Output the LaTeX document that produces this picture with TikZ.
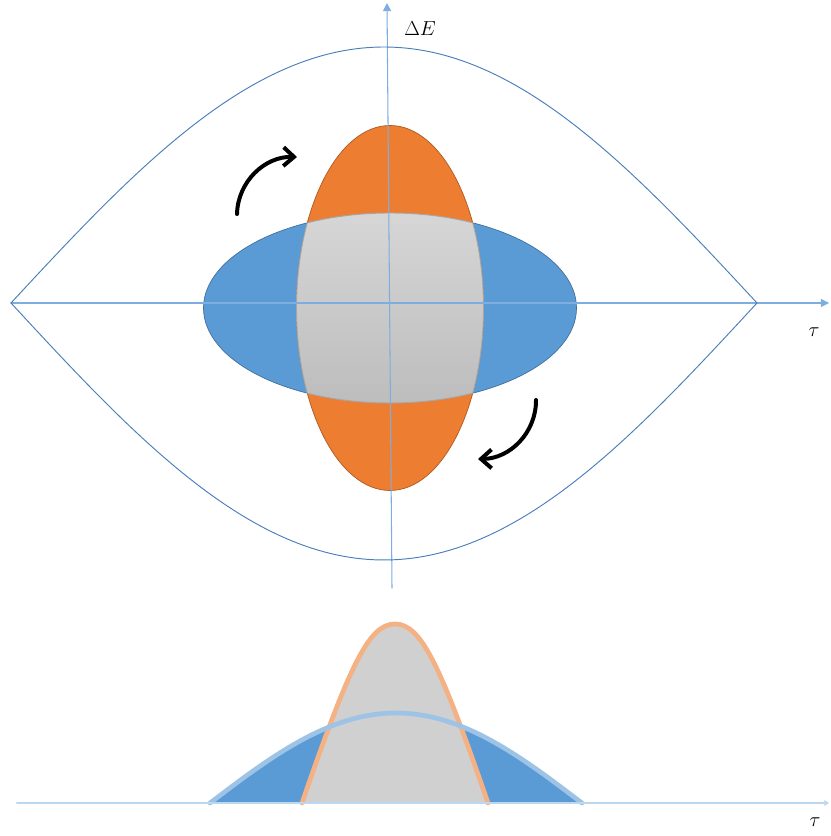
\documentclass[tikz,border=0pt]{standalone}
\usepackage{tikz}
\usetikzlibrary{arrows.meta}
\definecolor{PhaseBlue}{HTML}{5B9BD5}
\definecolor{PhaseBlueEdge}{HTML}{41719C}
\definecolor{PhaseOrange}{HTML}{ED7D31}
\definecolor{PhaseOrangeEdge}{HTML}{AE5A21}
\definecolor{PhaseGrayEdge}{HTML}{A6A6A6}
\definecolor{GrayTop}{HTML}{D6D6D6}
\definecolor{GrayBot}{HTML}{BDBDBD}
\definecolor{AxisBlue}{HTML}{7EAEDF}
\definecolor{SepBlue}{HTML}{4A7EBB}
\definecolor{ProfBlue}{HTML}{9DC3E6}
\definecolor{ProfOrange}{HTML}{F4B183}
\definecolor{ProfAxis}{HTML}{BDD7EE}
\definecolor{ProfGray}{HTML}{D0D0D0}

\begin{document}
\begin{tikzpicture}[x=0.03cm,y=0.03cm,line cap=round,font=\fontsize{17}{20}\selectfont,
  axis/.style={AxisBlue,line width=0.9pt,-{Triangle[length=7pt,width=7pt]}},
  turn/.style={line width=3.4pt,-{Straight Barb[length=9pt,width=16pt]}}]
  \useasboundingbox (0,0) rectangle (830,836);
  \coordinate (tL) at (11,533); \coordinate (tR) at (829,533);
  \coordinate (eB) at (392,248); \coordinate (eT) at (387,833);
  \coordinate (bL) at (17,33); \coordinate (bR) at (829,33);
  \coordinate (u0) at (237,622); \coordinate (u1) at (297,679);
  \coordinate (d0) at (536,436); \coordinate (d1) at (478,377);
  \filldraw[fill=PhaseBlue,draw=PhaseBlueEdge,line width=0.6pt] (390,528) ellipse [x radius=186.5,y radius=95];
  \filldraw[fill=PhaseOrange,draw=PhaseOrangeEdge,line width=0.6pt] (390,528) ellipse [x radius=93.5,y radius=182.5];
  \begin{scope}
    \clip (390,528) ellipse [x radius=93.5,y radius=182.5];
    \shade[top color=GrayTop,bottom color=GrayBot] (390,528) ellipse [x radius=186.5,y radius=95];
    \draw[PhaseGrayEdge,line width=0.8pt] (390,528) ellipse [x radius=186.5,y radius=95];
  \end{scope}
  \begin{scope}
    \clip (390,528) ellipse [x radius=186.5,y radius=95];
    \draw[PhaseGrayEdge,line width=0.8pt] (390,528) ellipse [x radius=93.5,y radius=182.5];
  \end{scope}
  \draw[axis] (tL) -- (tR); \draw[axis] (eB) -- (eT);
  \draw[SepBlue,line width=0.8pt] plot[domain=11:757,samples=120] (\x,{533+256*cos((\x-384)/373*90)});
  \draw[SepBlue,line width=0.8pt] plot[domain=11:757,samples=120] (\x,{533-257*cos((\x-384)/373*90)});
  \draw[turn] (u0) to[bend left=45] (u1); \draw[turn] (d0) to[bend left=45] (d1);
  \node (dE) at (420,807) {$\Delta E$}; \node (tauTop) at (814,504) {$\tau$};
  \fill[PhaseBlue] plot[domain=210:582,samples=80] (\x,{33+90*cos((\x-396)/186*90)}) -- cycle;
  \fill[ProfGray] (302,33) .. controls (350,172) and (369,212) .. (395,212) .. controls (421,212) and (440,172) .. (488,33) -- cycle;
  \draw[ProfOrange,line width=4pt] (302,33) .. controls (350,172) and (369,212) .. (395,212) .. controls (421,212) and (440,172) .. (488,33);
  \draw[ProfBlue,line width=4pt] plot[domain=210:582,samples=80] (\x,{33+90*cos((\x-396)/186*90)});
  \draw[ProfAxis,line width=1.8pt,-{Triangle[length=4pt,width=5pt]}] (bL) -- (bR);
  \node (tauBot) at (815,14) {$\tau$};
\end{tikzpicture}
\end{document}
